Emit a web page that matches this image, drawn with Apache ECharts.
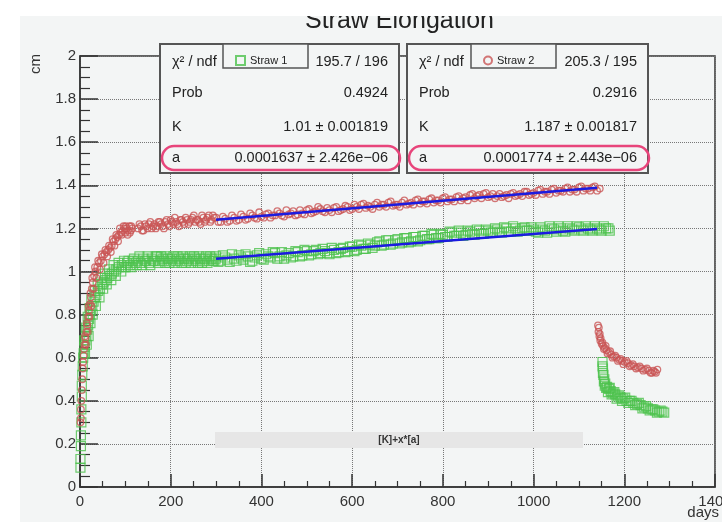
<!DOCTYPE html>
<html>
<head>
<meta charset="utf-8">
<title>Straw Elongation</title>
<script src="https://cdn.jsdelivr.net/npm/echarts/dist/echarts.min.js"></script>
<style>
  html, body { margin: 0; padding: 0; background: #fff; }
  #chart { width: 722px; height: 522px; }
</style>
</head>
<body>
<div id="chart"></div>
<script>
  // Straw 1 (green squares): [days, cm]
  var straw1 = [
    [1,0.09],[1,0.13],[2,0.19],[2,0.24],[3,0.30],[3,0.36],[4,0.42],[4,0.47],[5,0.52],[6,0.56],[7,0.60],[8,0.62],
    [10,0.65],[12,0.68],[14,0.70],[16,0.73],[18,0.75],[20,0.78],[22,0.80],[24,0.82],[27,0.84],[30,0.86],[33,0.88],
    [36,0.89],[40,0.91],[44,0.92],[48,0.94],[52,0.95],[56,0.96],[60,0.97],[65,0.98],[70,0.99],[75,1.00],[80,1.01],
    [86,1.02],[92,1.03],[98,1.02],[104,1.04],[110,1.03],[116,1.05],[122,1.04],[128,1.05],[134,1.04],[140,1.06],
    [9,0.68],[11,0.62],[13,0.74],[15,0.66],[17,0.79],[19,0.70],[21,0.83],[23,0.76],[25,0.87],[28,0.80],[32,0.91],
    [35,0.84],[39,0.94],[43,0.88],[47,0.97],[51,0.92],[55,0.99],[59,0.94],[64,1.01],[69,0.96],[74,1.03],[79,0.98],
    [85,1.04],[91,1.00],[97,1.05],
    [146,1.05],[152,1.04],[158,1.06],[164,1.05],[170,1.07],[176,1.05],[182,1.06],[188,1.04],[194,1.06],[200,1.05],
    [206,1.07],[212,1.05],[218,1.06],[224,1.04],[230,1.06],[236,1.05],[242,1.07],[248,1.05],[254,1.06],[260,1.04],
    [266,1.06],[272,1.05],[278,1.07],[284,1.05],[290,1.06],[296,1.05],
    [101,1.02],[107,1.05],[113,1.02],[119,1.06],[125,1.03],[131,1.07],[137,1.03],[143,1.05],[149,1.07],[155,1.03],
    [161,1.05],[167,1.07],[173,1.04],[179,1.07],[185,1.05],[191,1.07],[197,1.04],[203,1.06],[209,1.04],[215,1.07],
    [221,1.05],[227,1.07],[233,1.04],[239,1.06],[245,1.04],[251,1.07],[257,1.05],[263,1.07],[269,1.04],[275,1.06],
    [281,1.04],[287,1.07],[293,1.05],[299,1.06],
    [300,1.07],[310,1.05],[320,1.065],[330,1.045],[340,1.06],[350,1.075],[360,1.055],[370,1.07],[380,1.05],[390,1.075],
    [400,1.06],[410,1.08],[420,1.065],[430,1.085],[440,1.07],[450,1.06],[460,1.085],[470,1.07],[480,1.09],[490,1.075],
    [500,1.095],[510,1.08],[520,1.10],[530,1.085],[540,1.095],[550,1.08],[560,1.10],[570,1.09],[580,1.11],[590,1.095],
    [600,1.115],[610,1.10],[620,1.12],[630,1.105],[640,1.125],[650,1.12],[660,1.14],[670,1.125],[680,1.145],[690,1.13],
    [700,1.15],[710,1.135],[720,1.155],[730,1.14],[740,1.16],[750,1.145],[760,1.165],[770,1.15],[780,1.17],[790,1.155],
    [800,1.17],[810,1.16],[820,1.18],[830,1.165],[840,1.18],[850,1.17],[860,1.185],[870,1.17],[880,1.19],[890,1.175],
    [900,1.19],[910,1.18],[920,1.195],[930,1.18],[940,1.20],[950,1.185],[960,1.20],[970,1.19],[980,1.205],[990,1.19],
    [1000,1.195],[1010,1.18],[1020,1.195],[1030,1.18],[1040,1.20],[1050,1.185],[1060,1.20],[1070,1.185],[1080,1.20],
    [1090,1.19],[1100,1.205],[1110,1.19],[1120,1.20],[1130,1.19],[1140,1.20],[1150,1.19],[1160,1.20],[1168,1.19],
    [305,1.045],[315,1.075],[325,1.055],[335,1.08],[345,1.05],[355,1.065],[365,1.08],[375,1.045],[385,1.065],[395,1.085],
    [405,1.055],[415,1.07],[425,1.09],[435,1.06],[445,1.09],[455,1.075],[465,1.065],[475,1.095],[485,1.07],[495,1.10],
    [505,1.075],[515,1.095],[525,1.08],[535,1.105],[545,1.085],[555,1.11],[565,1.085],[575,1.105],[585,1.09],[595,1.115],
    [605,1.095],[615,1.125],[625,1.105],[635,1.13],[645,1.11],[655,1.135],[665,1.12],[675,1.145],[685,1.125],[695,1.145],
    [705,1.13],[715,1.155],[725,1.135],[735,1.16],[745,1.14],[755,1.165],[765,1.15],[775,1.175],[785,1.155],[795,1.175],
    [805,1.16],[815,1.185],[825,1.165],[835,1.19],[845,1.165],[855,1.19],[865,1.175],[875,1.195],[885,1.175],[895,1.195],
    [905,1.18],[915,1.20],[925,1.185],[935,1.205],[945,1.185],[955,1.21],[965,1.185],[975,1.20],[985,1.19],[995,1.205],
    [1005,1.185],[1015,1.205],[1025,1.19],[1035,1.21],[1045,1.195],[1055,1.21],[1065,1.19],[1075,1.21],[1085,1.195],
    [1095,1.21],[1105,1.195],[1115,1.21],[1125,1.195],[1135,1.21],[1145,1.195],[1155,1.21],[1165,1.20],
    [1152,0.58],[1153,0.55],[1154,0.52],[1156,0.50],[1158,0.48],[1162,0.465],[1166,0.455],[1170,0.445],[1175,0.435],
    [1180,0.43],[1186,0.42],[1192,0.415],[1198,0.41],[1205,0.40],[1212,0.40],[1220,0.39],[1228,0.385],[1236,0.38],
    [1244,0.37],[1252,0.365],[1260,0.36],[1268,0.355],[1276,0.35],[1284,0.35],
    [1152,0.56],[1153,0.53],[1155,0.49],[1157,0.47],[1160,0.46],[1164,0.44],[1168,0.46],[1172,0.43],[1178,0.44],
    [1183,0.41],[1189,0.425],[1195,0.40],[1202,0.415],[1209,0.39],[1216,0.40],[1224,0.38],[1232,0.39],[1240,0.365],
    [1248,0.375],[1256,0.355],[1264,0.36],[1272,0.345],[1280,0.355],[1288,0.345]
  ];

  // Straw 2 (red circles): [days, cm]
  var straw2 = [
    [1,0.30],[2,0.32],[2,0.36],[3,0.40],[4,0.45],[5,0.50],[6,0.55],[7,0.58],[8,0.61],[9,0.64],[10,0.66],[12,0.69],
    [14,0.72],[16,0.75],[18,0.79],[20,0.82],[22,0.85],[24,0.88],[26,0.92],[28,0.95],[31,0.98],[34,1.00],[38,1.02],
    [42,1.04],[46,1.05],[50,1.07],[54,1.08],[58,1.09],[62,1.10],[66,1.11],[70,1.12],[74,1.14],[78,1.15],[82,1.16],
    [86,1.17],[90,1.18],[94,1.19],[98,1.20],[100,1.18],[103,1.20],[106,1.19],[109,1.21],[112,1.19],[115,1.20],
    [11,0.70],[13,0.66],[15,0.76],[17,0.72],[19,0.84],[21,0.79],[23,0.90],[25,0.84],[27,0.97],[30,0.92],[33,1.02],
    [36,0.97],[40,1.05],[44,1.01],[48,1.08],[52,1.04],[56,1.10],[60,1.07],[64,1.12],[68,1.09],[72,1.15],[76,1.12],
    [80,1.17],[84,1.14],[88,1.20],[92,1.17],[96,1.21],[101,1.21],[105,1.17],[110,1.18],[113,1.21],
    [128,1.20],[134,1.21],[140,1.19],[146,1.21],[152,1.22],[158,1.20],[164,1.22],[170,1.21],[176,1.23],[182,1.21],
    [188,1.23],[194,1.22],[200,1.24],[206,1.22],[212,1.23],[218,1.21],[224,1.24],[230,1.22],[236,1.24],[242,1.23],
    [248,1.25],[254,1.23],[260,1.24],[266,1.22],[272,1.25],[278,1.24],[284,1.26],[290,1.24],[296,1.25],
    [131,1.22],[137,1.19],[143,1.22],[149,1.20],[155,1.23],[161,1.21],[167,1.20],[173,1.23],[179,1.22],[185,1.20],
    [191,1.24],[197,1.21],[203,1.23],[209,1.25],[215,1.22],[221,1.24],[227,1.23],[233,1.25],[239,1.22],[245,1.24],
    [251,1.26],[257,1.24],[263,1.23],[269,1.26],[275,1.23],[281,1.25],[287,1.23],[293,1.26],
    [300,1.25],[310,1.23],[320,1.245],[330,1.235],[340,1.25],[350,1.24],[360,1.255],[370,1.245],[380,1.26],[390,1.245],
    [400,1.255],[410,1.265],[420,1.25],[430,1.26],[440,1.27],[450,1.255],[460,1.265],[470,1.28],[480,1.265],[490,1.27],
    [500,1.285],[510,1.27],[520,1.28],[530,1.29],[540,1.275],[550,1.285],[560,1.295],[570,1.28],[580,1.29],[590,1.30],
    [600,1.29],[610,1.30],[620,1.31],[630,1.295],[640,1.30],[650,1.31],[660,1.30],[670,1.31],[680,1.32],[690,1.305],
    [700,1.31],[710,1.32],[720,1.31],[730,1.32],[740,1.33],[750,1.315],[760,1.325],[770,1.335],[780,1.32],[790,1.33],
    [800,1.34],[810,1.325],[820,1.335],[830,1.345],[840,1.33],[850,1.345],[860,1.355],[870,1.34],[880,1.355],[890,1.36],
    [900,1.345],[910,1.36],[920,1.35],[930,1.345],[940,1.355],[950,1.36],[960,1.35],[970,1.36],[980,1.37],[990,1.355],
    [1000,1.365],[1010,1.375],[1020,1.36],[1030,1.37],[1040,1.38],[1050,1.365],[1060,1.375],[1070,1.385],[1080,1.37],
    [1090,1.38],[1100,1.39],[1110,1.375],[1120,1.385],[1130,1.39],[1140,1.375],[1146,1.385],
    [305,1.23],[315,1.255],[325,1.23],[335,1.26],[345,1.235],[355,1.265],[365,1.24],[375,1.27],[385,1.25],[395,1.275],
    [405,1.25],[415,1.27],[425,1.26],[435,1.28],[445,1.26],[455,1.285],[465,1.27],[475,1.26],[485,1.285],[495,1.265],
    [505,1.29],[515,1.275],[525,1.30],[535,1.28],[545,1.295],[555,1.275],[565,1.30],[575,1.285],[585,1.305],[595,1.285],
    [605,1.31],[615,1.29],[625,1.315],[635,1.305],[645,1.29],[655,1.32],[665,1.31],[675,1.30],[685,1.325],[695,1.31],
    [705,1.30],[715,1.33],[725,1.315],[735,1.31],[745,1.335],[755,1.325],[765,1.315],[775,1.34],[785,1.33],[795,1.32],
    [805,1.345],[815,1.335],[825,1.325],[835,1.35],[845,1.34],[855,1.33],[865,1.36],[875,1.35],[885,1.34],[895,1.365],
    [905,1.35],[915,1.34],[925,1.36],[935,1.35],[945,1.34],[955,1.365],[965,1.355],[975,1.35],[985,1.37],[995,1.36],
    [1005,1.355],[1015,1.38],[1025,1.37],[1035,1.36],[1045,1.385],[1055,1.375],[1065,1.37],[1075,1.39],[1085,1.38],
    [1095,1.37],[1105,1.395],[1115,1.385],[1125,1.375],[1135,1.395],
    [1142,0.75],[1143,0.72],[1145,0.70],[1147,0.68],[1150,0.665],[1153,0.655],[1157,0.645],[1161,0.635],[1166,0.625],
    [1171,0.615],[1177,0.605],[1183,0.60],[1189,0.59],[1195,0.585],[1201,0.58],[1208,0.575],[1215,0.565],[1222,0.56],
    [1230,0.555],[1238,0.55],[1246,0.545],[1254,0.54],[1261,0.53],[1267,0.535],[1273,0.545],
    [1144,0.74],[1146,0.71],[1148,0.69],[1152,0.67],[1155,0.64],[1159,0.655],[1163,0.62],[1169,0.63],[1174,0.60],
    [1180,0.61],[1186,0.585],[1192,0.595],[1198,0.57],[1205,0.585],[1212,0.56],[1219,0.57],[1226,0.55],[1234,0.56],
    [1242,0.54],[1250,0.55],[1258,0.53],[1264,0.54],[1270,0.53]
  ];

  // fits [K]+x*[a], endpoints of the drawn range
  var fitDays = [300, 1140];
  var fit1 = [1.059, 1.197];
  var fit2 = [1.240, 1.389];

  var stat1 = [['χ² / ndf', '195.7 / 196'], ['Prob', '0.4924'], ['K', '1.01 ± 0.001819'], ['a', '0.0001637 ± 2.426e−06']];
  var stat2 = [['χ² / ndf', '205.3 / 195'], ['Prob', '0.2916'], ['K', '1.187 ± 0.001817'], ['a', '0.0001774 ± 2.443e−06']];

  var FONT = '"Liberation Sans", Arial, Helvetica, sans-serif';
  var BG = '#f3f5f5';
  var GREEN = '#4cc24c';
  var RED = '#c95555';

  function pairs(days, vals) {
    return days.map(function (d, i) { return [d, vals[i]]; });
  }

  // stat box drawn as graphic elements (ROOT-like TPaveStats)
  function statBox(x, w, rows, legendX) {
    var els = [];
    els.push({type: 'rect', z: 100, shape: {x: x, y: 44, width: w, height: 129},
      style: {fill: BG, stroke: '#555', lineWidth: 2}});
    els.push({type: 'rect', z: 101, shape: {x: legendX, y: 44, width: 85, height: 24},
      style: {fill: BG, stroke: '#555', lineWidth: 1.5}});
    var ys = [62, 93, 127, 158];
    for (var i = 0; i < rows.length; i++) {
      els.push({type: 'text', z: 102, x: x + 12, y: ys[i],
        style: {text: rows[i][0], fill: '#222', font: '14.5px ' + FONT, verticalAlign: 'middle'}});
      els.push({type: 'text', z: 102, x: x + w - 11, y: ys[i],
        style: {text: rows[i][1], fill: '#222', font: '14.5px ' + FONT, align: 'right', verticalAlign: 'middle'}});
    }
    // pink hand-drawn highlight round the "a" row
    els.push({type: 'rect', z: 103, shape: {x: x + 2, y: 146, width: w - 1, height: 24, r: 12},
      style: {fill: 'none', stroke: '#e8457b', lineWidth: 2.5}});
    return els;
  }

  var chart = echarts.init(document.getElementById('chart'));
  var option = {
    animation: false,
    backgroundColor: BG,
    title: {
      text: 'Straw Elongation',
      left: 300,
      top: 4,
      textStyle: {fontFamily: FONT, fontSize: 25, fontWeight: 'normal', color: '#222'}
    },
    legend: [
      {data: ['Straw 1'], left: 230, top: 50, itemWidth: 9, itemHeight: 9, itemGap: 4, z: 120,
        textStyle: {fontFamily: FONT, fontSize: 11, color: '#222'}},
      {data: ['Straw 2'], left: 478, top: 50, itemWidth: 8, itemHeight: 8, itemGap: 4, z: 120,
        textStyle: {fontFamily: FONT, fontSize: 11, color: '#222'}}
    ],
    grid: {left: 80, top: 56, right: 7, bottom: 35, outerBoundsMode: 'none', containLabel: false,
      show: true, borderColor: '#333', borderWidth: 1.5},
    xAxis: {
      type: 'value', min: 0, max: 1400, interval: 200,
      axisLine: {lineStyle: {color: '#333', width: 1.5}},
      axisTick: {inside: true, length: 13, lineStyle: {color: '#333', width: 1.5}},
      minorTick: {show: true, splitNumber: 4, length: 6, lineStyle: {color: '#333', width: 1.2}},
      splitLine: {show: true, lineStyle: {type: 'dotted', color: '#777', width: 1}},
      axisLabel: {margin: 7, fontFamily: FONT, fontSize: 15, color: '#333',
        alignMinLabel: 'center', alignMaxLabel: 'center', hideOverlap: false,
        formatter: function (v) { return String(v); }}
    },
    yAxis: {
      type: 'value', min: 0, max: 2, interval: 0.2,
      axisLine: {lineStyle: {color: '#333', width: 1.5}},
      axisTick: {inside: true, length: 18, lineStyle: {color: '#333', width: 1.5}},
      minorTick: {show: true, splitNumber: 4, length: 10, lineStyle: {color: '#333', width: 1.2}},
      splitLine: {show: true, lineStyle: {type: 'dotted', color: '#777', width: 1}},
      axisLabel: {margin: 4, fontFamily: FONT, fontSize: 15, color: '#333',
        formatter: function (v) { return String(+v.toFixed(1)); }}
    },
    series: [
      {
        name: 'Straw 1', type: 'scatter', data: straw1, symbol: 'rect', symbolSize: 9,
        itemStyle: {color: 'rgba(0,0,0,0)', borderColor: GREEN, borderWidth: 1.2}
      },
      {
        name: 'Straw 2', type: 'scatter', data: straw2, symbol: 'circle', symbolSize: 6.5,
        itemStyle: {color: 'rgba(0,0,0,0)', borderColor: RED, borderWidth: 1.3}
      },
      {
        name: 'fit1', type: 'line', data: pairs(fitDays, fit1), symbol: 'none', z: 5,
        lineStyle: {color: '#1b1be0', width: 2.5}
      },
      {
        name: 'fit2', type: 'line', data: pairs(fitDays, fit2), symbol: 'none', z: 5,
        lineStyle: {color: '#1b1be0', width: 2.5}
      }
    ],
    graphic: [].concat(
      statBox(160, 239, stat1, 223),
      statBox(407, 241, stat2, 471),
      [
        // fit formula label
        {type: 'rect', z: 90, shape: {x: 215, y: 432, width: 368, height: 16}, style: {fill: '#e6e6e6'}},
        {type: 'text', z: 91, x: 399, y: 440,
          style: {text: '[K]+x*[a]', fill: '#333', font: 'bold 10px ' + FONT, align: 'center', verticalAlign: 'middle'}},
        // axis titles
        {type: 'text', z: 91, x: 36, y: 64, rotation: Math.PI / 2,
          style: {text: 'cm', fill: '#333', font: '15px ' + FONT, align: 'center', verticalAlign: 'middle'}},
        {type: 'text', z: 91, x: 719, y: 513,
          style: {text: 'days', fill: '#333', font: '15px ' + FONT, align: 'right', verticalAlign: 'middle'}},
        // white page margins cropping the canvas
        {type: 'rect', z: 200, shape: {x: 0, y: 0, width: 722, height: 16}, style: {fill: '#fff'}},
        {type: 'rect', z: 200, shape: {x: 0, y: 0, width: 20, height: 522}, style: {fill: '#fff'}}
      ]
    )
  };
  chart.setOption(option);
</script>
</body>
</html>
